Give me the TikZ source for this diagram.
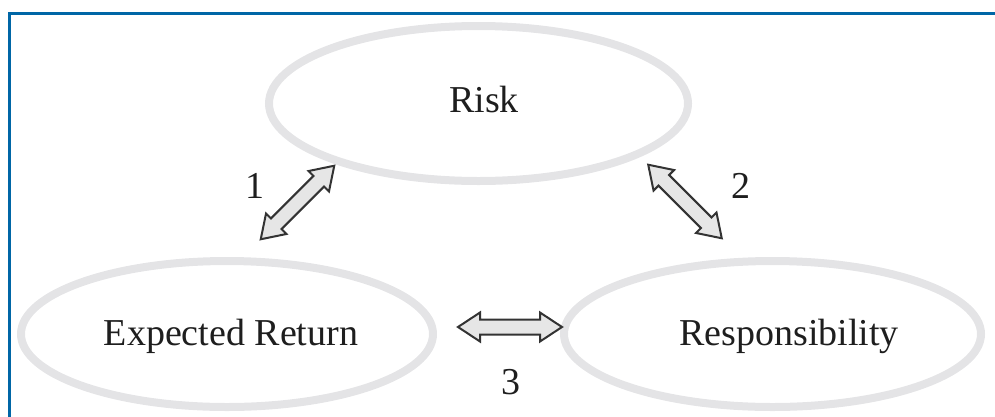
\documentclass[tikz,border=0pt]{standalone}
\usepackage{fontspec}
\setmainfont{Liberation Serif}
\usetikzlibrary{shapes.geometric}
\definecolor{frameblue}{HTML}{0066A6}
\definecolor{ringgray}{HTML}{E4E4E6}
\definecolor{arrowfill}{HTML}{E6E6E6}
\definecolor{arrowline}{HTML}{333333}
\definecolor{txt}{HTML}{1E1E1E}
\tikzset{
  ring/.style={draw=ringgray, line width=8pt, ellipse, inner sep=0pt},
  lbl/.style={text=txt, font=\fontsize{38}{40}\selectfont, inner sep=0pt},
  blockarr/.style={draw=arrowline, fill=arrowfill, line width=2pt, line join=miter}
}
\newcommand{\dblarrowat}[2]{%
  \draw[blockarr, shift={(#1)}, rotate=#2]
    (-52,0) -- (-30,14.5) -- (-30,7.5) -- (30,7.5) -- (30,14.5) -- (52,0)
    -- (30,-14.5) -- (30,-7.5) -- (-30,-7.5) -- (-30,-14.5) -- cycle;}
\begin{document}
\begin{tikzpicture}[x=1pt,y=-1pt]
\useasboundingbox (0,0) rectangle (995,416);
% frame
\draw[frameblue, line width=3.8pt] (9.5,420) -- (9.5,13.5) -- (1000,13.5);
% ellipses
\node[ring, minimum width=419pt, minimum height=155pt] (risk) at (478.5,103.5) {};
\node[ring, minimum width=412pt, minimum height=146pt] (exp) at (227,334) {};
\node[ring, minimum width=417pt, minimum height=146pt] (resp) at (772.5,334) {};
% texts
\node[lbl] (riskT) at (484,99) {Risk};
\node[lbl] (expT) at (231,336) {Expected Return};
\node[lbl] (respT) at (789,336) {Responsibility};
% arrows
\coordinate (a1) at (297.5,202.5);
\coordinate (a2) at (685,201.5);
\coordinate (a3) at (510,327);
\dblarrowat{a1}{45}
\dblarrowat{a2}{-45}
\dblarrowat{a3}{0}
% numbers
\node[lbl] (n1) at (255,186) {1};
\node[lbl] (n2) at (741,186) {2};
\node[lbl] (n3) at (511,382) {3};
\end{tikzpicture}
\end{document}
